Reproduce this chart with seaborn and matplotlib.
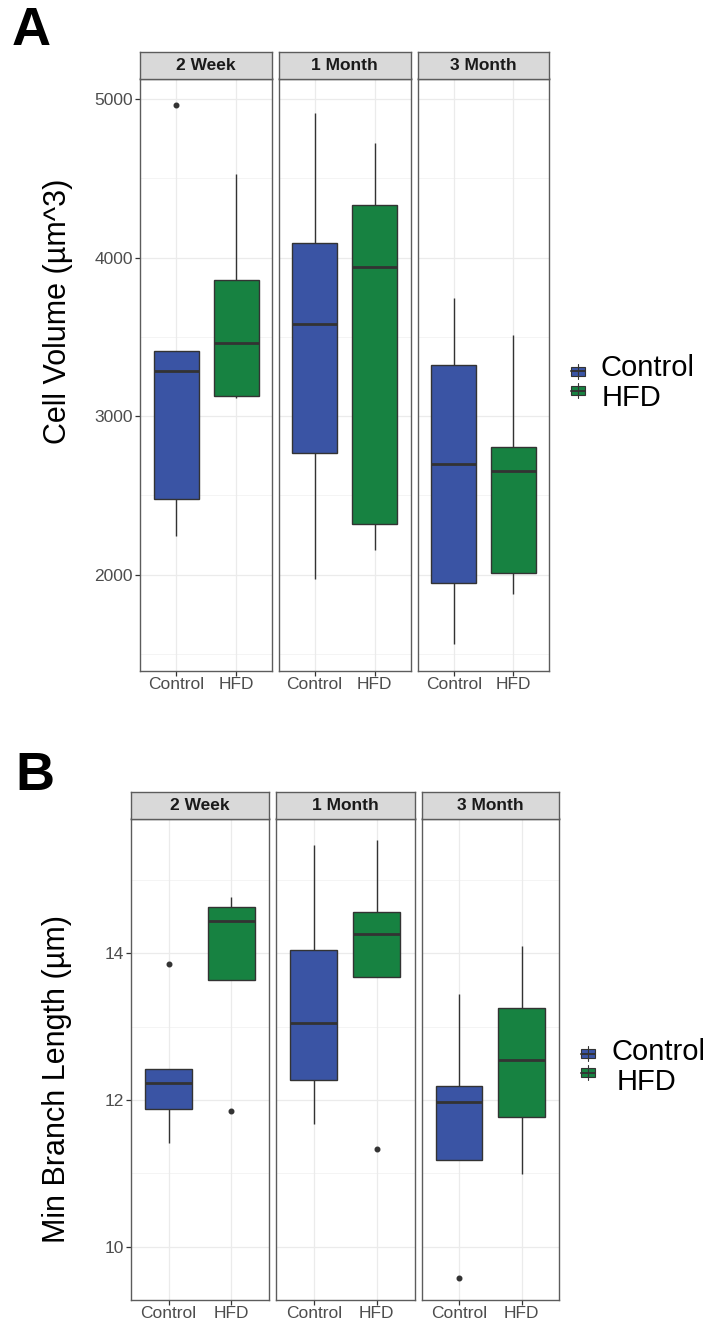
import numpy as np
import pandas as pd
import seaborn as sns
import matplotlib
matplotlib.use("Agg")
import matplotlib.pyplot as plt
from matplotlib.patches import Rectangle
from matplotlib.lines import Line2D

# ---------------- data ----------------
time_points = ["2 Week", "1 Month", "3 Month"]
groups = ["Control", "HFD"]
group_colors = {"Control": "#3A54A4", "HFD": "#178241"}

# Panel A: Cell Volume (um^3)
cv_2w_control = [2246, 2246, 2477, 2477, 3287, 3411, 3411, 3411, 4960]
cv_2w_hfd = [3112, 3112, 3125, 3125, 3462, 3856, 3856, 4529, 4529]
cv_1m_control = [1976, 1976, 2768, 2768, 3581, 4092, 4092, 4913, 4913]
cv_1m_hfd = [2154, 2154, 2323, 2323, 3938, 4335, 4335, 4725, 4725]
cv_3m_control = [1566, 1566, 1950, 1950, 2697, 3321, 3321, 3748, 3748]
cv_3m_hfd = [1881, 1881, 2011, 2011, 2657, 2805, 2805, 3509, 3509]
cv_yticks = [2000, 3000, 4000, 5000]
cv_yminor = [1500, 2500, 3500, 4500]

# Panel B: Min Branch Length (um)
mb_2w_control = [11.41, 11.41, 11.88, 11.88, 12.23, 12.42, 12.42, 12.42, 13.85]
mb_2w_hfd = [11.855, 13.63, 13.63, 13.63, 14.44, 14.63, 14.63, 14.77, 14.77]
mb_1m_control = [11.68, 11.68, 12.28, 12.28, 13.05, 14.05, 14.05, 15.48, 15.48]
mb_1m_hfd = [11.34, 13.68, 13.68, 13.68, 14.27, 14.57, 14.57, 15.54, 15.54]
mb_3m_control = [9.58, 11.19, 11.19, 11.19, 11.98, 12.19, 12.19, 13.45, 13.45]
mb_3m_hfd = [10.99, 10.99, 11.77, 11.77, 12.55, 13.26, 13.26, 14.10, 14.10]
mb_yticks = [10, 12, 14]
mb_yminor = [11, 13, 15]


def build_df(series):
    rows = []
    for tp, grp, vals in series:
        for v in vals:
            rows.append({"time": tp, "group": grp, "value": v})
    return pd.DataFrame(rows)


df_a = build_df([
    ("2 Week", "Control", cv_2w_control), ("2 Week", "HFD", cv_2w_hfd),
    ("1 Month", "Control", cv_1m_control), ("1 Month", "HFD", cv_1m_hfd),
    ("3 Month", "Control", cv_3m_control), ("3 Month", "HFD", cv_3m_hfd),
])
df_b = build_df([
    ("2 Week", "Control", mb_2w_control), ("2 Week", "HFD", mb_2w_hfd),
    ("1 Month", "Control", mb_1m_control), ("1 Month", "HFD", mb_1m_hfd),
    ("3 Month", "Control", mb_3m_control), ("3 Month", "HFD", mb_3m_hfd),
])

# ---------------- style ----------------
sns.set_theme(style="white")
plt.rcParams["font.family"] = ["Liberation Sans", "DejaVu Sans"]

W, H = 709, 1322
fig = plt.figure(figsize=(W / 100, H / 100), dpi=100)
fig.patch.set_facecolor("white")


def fx(px):
    return px / W


def fy(py):
    return 1 - py / H


def add_ax(x0, x1, y0, y1):
    return fig.add_axes([fx(x0), fy(y1), fx(x1) - fx(x0), (y1 - y0) / H])


BORDER = "#5c5c5c"
TICKC = "#4D4D4D"


def draw_panel(df, xranges, strip_top, panel_top, panel_bottom,
               yticks, yminor, ylabel, ylab_xy, legend_cfg, letter, letter_xy):
    vmin, vmax = df["value"].min(), df["value"].max()
    pad = 0.05 * (vmax - vmin)
    ylim = (vmin - pad, vmax + pad)
    for i, tp in enumerate(time_points):
        x0, x1 = xranges[i]
        ax = add_ax(x0, x1, panel_top, panel_bottom)
        sub = df[df["time"] == tp]
        # grid
        for v in yminor:
            ax.axhline(v, color="#F3F3F3", lw=0.6, zorder=0)
        for v in yticks:
            ax.axhline(v, color="#EBEBEB", lw=0.9, zorder=0)
        for k in range(len(groups)):
            ax.axvline(k, color="#EBEBEB", lw=0.9, zorder=0)
        sns.boxplot(data=sub, x="group", y="value", hue="group",
                    order=groups, hue_order=groups, palette=group_colors,
                    saturation=1, width=0.75, linewidth=1.0,
                    linecolor="#333333", fliersize=3.3, whis=1.5,
                    flierprops=dict(marker="o", markerfacecolor="#333333",
                                    markeredgecolor="#333333"),
                    medianprops=dict(linewidth=2.0, color="#333333"),
                    whiskerprops=dict(color="#333333", linewidth=1.0),
                    capprops=dict(linewidth=0),
                    legend=False, ax=ax)
        ax.set_xlim(-0.6, 1.6)
        ax.set_ylim(*ylim)
        ax.set_xlabel("")
        ax.set_ylabel("")
        ax.set_yticks(yticks)
        ax.set_xticks(range(len(groups)))
        ax.set_xticklabels(groups)
        ax.tick_params(axis="x", length=3.5, width=0.9, color="#333333",
                       pad=1.5, labelsize=12.5, labelcolor=TICKC,
                       bottom=True)
        if i == 0:
            ax.tick_params(axis="y", length=3.5, width=0.9, color="#333333",
                           pad=1.5, labelsize=12.5, labelcolor=TICKC,
                           left=True)
        else:
            ax.tick_params(axis="y", left=False, labelleft=False)
        for s in ax.spines.values():
            s.set_color(BORDER)
            s.set_linewidth(1.0)
        ax.set_facecolor("white")
        # strip
        sax = add_ax(x0, x1, strip_top, panel_top)
        sax.set_facecolor("#D9D9D9")
        sax.set_xticks([])
        sax.set_yticks([])
        for s in sax.spines.values():
            s.set_color(BORDER)
            s.set_linewidth(1.0)
        sax.text(0.5, 0.48, tp, ha="center", va="center", fontsize=12.5,
                 fontweight="bold", color="#1A1A1A", transform=sax.transAxes)

    fig.text(fx(ylab_xy[0]), fy(ylab_xy[1]), ylabel, rotation=90,
             ha="center", va="center", fontsize=22, color="black")
    fig.text(fx(letter_xy[0]), fy(letter_xy[1]), letter, ha="left",
             va="baseline", fontsize=39, fontweight="bold", color="black")

    # legend (ggplot-style boxplot keys)
    for grp, (kx0, kx1, kyc, tx, ty) in zip(groups, legend_cfg):
        bh = 9
        fig.add_artist(Line2D([fx((kx0 + kx1) / 2)] * 2,
                              [fy(kyc - bh / 2 - 3), fy(kyc + bh / 2 + 3)],
                              color="#333333", lw=0.8))
        fig.add_artist(Rectangle((fx(kx0), fy(kyc + bh / 2)),
                                 fx(kx1) - fx(kx0), bh / H,
                                 facecolor=group_colors[grp],
                                 edgecolor="#333333", lw=0.8))
        fig.add_artist(Line2D([fx(kx0), fx(kx1)], [fy(kyc)] * 2,
                              color="#333333", lw=1.4))
        fig.text(fx(tx), fy(ty), grp, ha="left", va="baseline",
                 fontsize=21, color="black")


draw_panel(df_a,
           xranges=[(140, 272), (278.5, 411), (418, 549)],
           strip_top=52, panel_top=78.5, panel_bottom=670.5,
           yticks=cv_yticks, yminor=cv_yminor,
           ylabel="Cell Volume (µm^3)", ylab_xy=(58, 311),
           legend_cfg=[(571, 585, 371, 600, 376), (571, 585, 390.5, 601.5, 405.5)],
           letter="A", letter_xy=(12, 45))

draw_panel(df_b,
           xranges=[(131, 269), (276, 414.5), (421.5, 559)],
           strip_top=792, panel_top=818.5, panel_bottom=1299.5,
           yticks=mb_yticks, yminor=mb_yminor,
           ylabel="Min Branch Length (µm)", ylab_xy=(57, 1079),
           legend_cfg=[(581, 595, 1053.5, 611.5, 1059.5), (581, 595, 1072.5, 616.5, 1090)],
           letter="B", letter_xy=(15, 790))

fig.savefig("out.png", dpi=100, facecolor="white")
